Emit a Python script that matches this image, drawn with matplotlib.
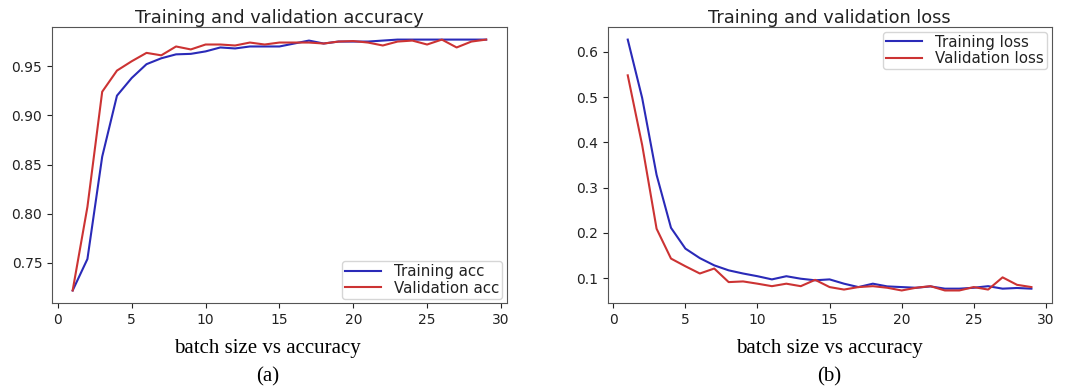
import matplotlib
matplotlib.use("Agg")
import matplotlib.pyplot as plt

epochs = list(range(1, 30))

train_acc = [0.722, 0.754, 0.858, 0.920, 0.938, 0.952, 0.958, 0.962, 0.9625, 0.965,
             0.969, 0.968, 0.970, 0.970, 0.970, 0.973, 0.976, 0.973, 0.975, 0.975,
             0.975, 0.976, 0.977, 0.977, 0.977, 0.977, 0.977, 0.977, 0.977]
val_acc = [0.722, 0.807, 0.924, 0.9455, 0.955, 0.9635, 0.961, 0.970, 0.967, 0.972,
           0.972, 0.971, 0.974, 0.972, 0.974, 0.974, 0.974, 0.973, 0.975, 0.9755,
           0.974, 0.971, 0.975, 0.976, 0.972, 0.977, 0.969, 0.975, 0.977]

train_loss = [0.627, 0.498, 0.328, 0.211, 0.165, 0.144, 0.128, 0.117, 0.110, 0.104,
              0.097, 0.104, 0.0985, 0.095, 0.097, 0.0875, 0.080, 0.0875, 0.0815, 0.080,
              0.0785, 0.0815, 0.0765, 0.0765, 0.0785, 0.082, 0.0765, 0.078, 0.0765]
val_loss = [0.548, 0.394, 0.209, 0.143, 0.126, 0.110, 0.121, 0.091, 0.0925, 0.0875,
            0.082, 0.0875, 0.082, 0.096, 0.080, 0.0745, 0.080, 0.082, 0.0785, 0.0725,
            0.0785, 0.082, 0.0725, 0.0725, 0.080, 0.0745, 0.1015, 0.085, 0.080]

titles = ["Training and validation accuracy", "Training and validation loss"]
legend_labels = [("Training acc", "Validation acc"), ("Training loss", "Validation loss")]
captions = ["batch size vs accuracy", "batch size vs accuracy"]
sub_labels = ["(a)", "(b)"]

blue = "#2a2ab8"
red = "#cc3333"
txt = "#222222"

fig = plt.figure(figsize=(10.83, 3.92), dpi=100)
ax1 = fig.add_axes([0.048, 0.227, 0.420, 0.704])
ax2 = fig.add_axes([0.561, 0.227, 0.410, 0.704])

series = [(train_acc, val_acc), (train_loss, val_loss)]
locs = ["lower right", "upper right"]
for ax, (tr, va), title, labs, loc in zip([ax1, ax2], series, titles, legend_labels, locs):
    ax.plot(epochs, tr, color=blue, lw=1.5, label=labs[0])
    ax.plot(epochs, va, color=red, lw=1.5, label=labs[1])
    ax.set_title(title, fontsize=12.8, color=txt, pad=3)
    ax.set_xticks([0, 5, 10, 15, 20, 25, 30])
    ax.tick_params(labelsize=10, colors=txt)
    for s in ax.spines.values():
        s.set_color("#555555")
    ax.legend(loc=loc, fontsize=10.8, labelcolor=txt, labelspacing=0.1,
              borderpad=0.2, handlelength=2.4, borderaxespad=0.3, handletextpad=0.9)

ax1.set_yticks([0.75, 0.80, 0.85, 0.90, 0.95])
ax2.set_yticks([0.1, 0.2, 0.3, 0.4, 0.5, 0.6])

cx = [0.247, 0.766]
for c, cap, sl in zip(cx, captions, sub_labels):
    fig.text(c, 1 - 348 / 392, cap, ha="center", va="center",
             family="Liberation Serif", fontsize=15, color="black")
    fig.text(c, 1 - 377 / 392, sl, ha="center", va="center",
             family="Liberation Serif", fontsize=15, color="black")

fig.savefig("out.png", dpi=100)
